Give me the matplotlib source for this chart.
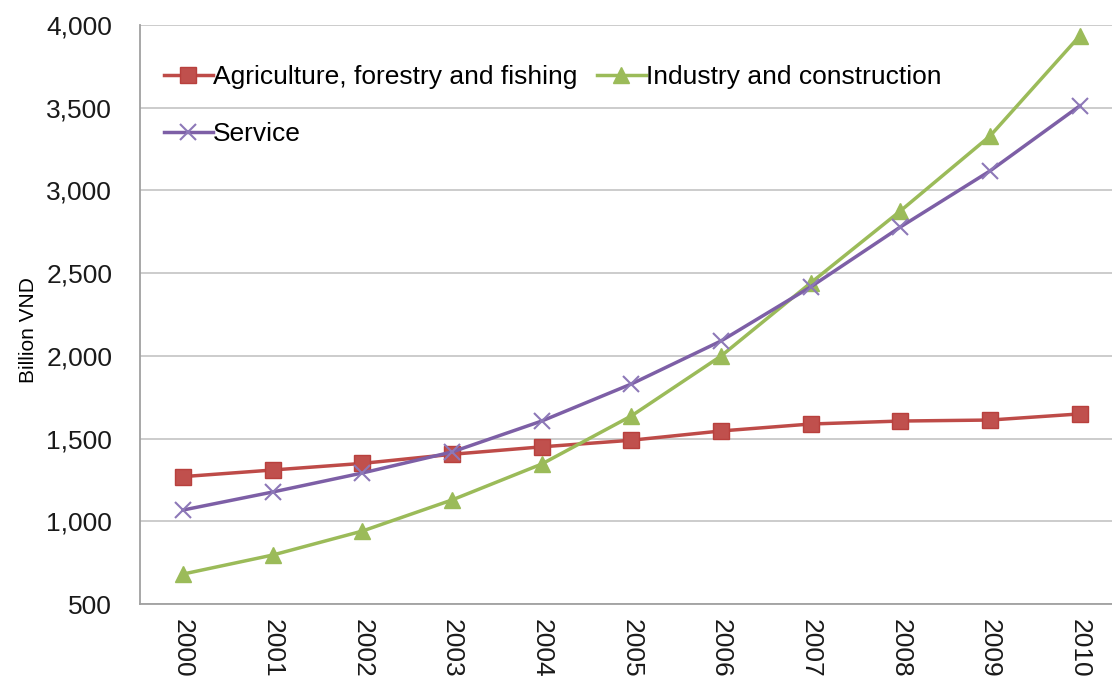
import matplotlib
matplotlib.use('Agg')
import matplotlib.pyplot as plt
from matplotlib.ticker import FuncFormatter

# datos
anios = ['2000', '2001', '2002', '2003', '2004', '2005', '2006', '2007', '2008', '2009', '2010']
agricultura = [1270, 1310, 1350, 1405, 1450, 1490, 1546, 1588, 1606, 1612, 1649]
industria = [681, 796, 941, 1129, 1346, 1637, 1999, 2441, 2876, 3329, 3934]
servicio = [1068, 1177, 1292, 1419, 1606, 1830, 2090, 2417, 2779, 3118, 3511]

plt.rcParams['font.family'] = ['Liberation Sans', 'DejaVu Sans']

fig = plt.figure(figsize=(11.12, 6.82), dpi=100)
ax = fig.add_axes([140/1112, 1 - 604/682, 1 - 140/1112, 579/682])

x = list(range(len(anios)))
l_agri, = ax.plot(x, agricultura, color='#BE4B48', lw=2.5, marker='s', ms=11,
                  mfc='#C0504D', mec='#B8403D', label='Agriculture, forestry and fishing')
l_ind, = ax.plot(x, industria, color='#9BBB59', lw=2.5, marker='^', ms=12,
                 mfc='#9BBB59', mec='#9BBB59', label='Industry and construction')
l_serv, = ax.plot(x, servicio, color='#7D5FA6', lw=2.5, marker='x', ms=11, mew=1.5,
                  mec='#8D78B8', label='Service')

ax.set_ylim(500, 4000)
ax.set_xlim(-0.48, 10.36)
ax.set_yticks(range(500, 4001, 500))
ax.yaxis.set_major_formatter(FuncFormatter(lambda v, p: f'{int(v):,}'))
ax.set_xticks(x)
ax.set_xticklabels(anios, rotation=270)
ax.tick_params(axis='y', length=0, labelsize=19, colors='#1a1a1a', pad=20)
ax.tick_params(axis='x', length=0, labelsize=19, colors='#1a1a1a', pad=11)
ax.grid(True, axis='y', color='#C8C8C8', lw=1.3)
ax.set_axisbelow(True)
for s in ['top', 'right']:
    ax.spines[s].set_visible(False)
for s in ['left', 'bottom']:
    ax.spines[s].set_color('#A0A0A0')
    ax.spines[s].set_linewidth(1.3)

ax.set_ylabel('Billion VND', fontsize=15)
ax.yaxis.set_label_coords(-0.105, 0.473)

# orden para que la fila 1 tenga agricultura e industria
ax.legend([l_agri, l_serv, l_ind],
          [l_agri.get_label(), l_serv.get_label(), l_ind.get_label()],
          loc='upper left', ncol=2, frameon=False, fontsize=19,
          bbox_to_anchor=(0.0, 0.972), handlelength=1.85, handletextpad=0.0,
          columnspacing=0.75, labelspacing=1.25)

fig.savefig('out.png', dpi=100)
